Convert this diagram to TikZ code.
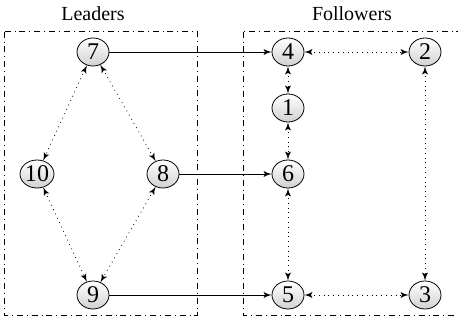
\documentclass[tikz,border=0pt]{standalone}
\usepackage{fontspec}
\setmainfont{Liberation Serif}
\usepackage{tikz}
\usetikzlibrary{shapes,arrows,calc}
\tikzstyle{agent} = [ellipse, draw, top color=white, bottom color=black!18,
    minimum width=16pt, minimum height=14pt, inner sep=0pt, font=\large]
\tikzstyle{line} = [draw, -latex']
\tikzstyle{link} = [draw, dotted, latex'-latex']
\tikzstyle{group} = [draw, dash dot]

\begin{document}
\begin{tikzpicture}[node distance = 2cm, auto]
    \useasboundingbox (-46.5pt,26pt) rectangle (182.5pt,-136pt);
    \clip (-46.5pt,26pt) rectangle (182.5pt,-136pt);
    % Place nodes
    \node [agent] (7) {7};
    \node [agent, right of=7, node distance=97.5pt] (4) {4};
    \node [agent, right of=4, node distance=68.5pt] (2) {2};
    \node [agent, below of=4, node distance=28pt] (1) {1};
    \node [agent, below of=1, node distance=33pt] (6) {6};
    \node [agent, below of=6, node distance=60.5pt] (5) {5};
    \node [agent, right of=5, node distance=68.5pt] (3) {3};
    \node [agent, left of=6, node distance=62.5pt] (8) {8};
    \node [agent, left of=8, node distance=63pt] (10) {10};
    \node [agent, below of=7, node distance=121.5pt] (9) {9};
    % Groups
    \node [above of=7, node distance=19pt] (lead) {Leaders};
    \node [right of=lead, node distance=129.5pt] (follow) {Followers};
    \path [group] ($(10.west |- 7.north)+(-7.5pt,3pt)$) rectangle ($(8.east |- 9.south)+(9pt,-3pt)$);
    \path [group] ($(4.west |- 4.north)+(-14pt,3pt)$) rectangle ($(2.east |- 5.south)+(10pt,-3pt)$);
    % Draw edges
    \path [line] (7) -- (4);
    \path [line] (8) -- (6);
    \path [line] (9) -- (5);
    \path [link] (7) -- (10);
    \path [link] (7) -- (8);
    \path [link] (10) -- (9);
    \path [link] (8) -- (9);
    \path [link] (4) -- (2);
    \path [link] (4) -- (1);
    \path [link] (1) -- (6);
    \path [link] (6) -- (5);
    \path [link] (5) -- (3);
    \path [link] (2) -- (3);
\end{tikzpicture}
\end{document}
